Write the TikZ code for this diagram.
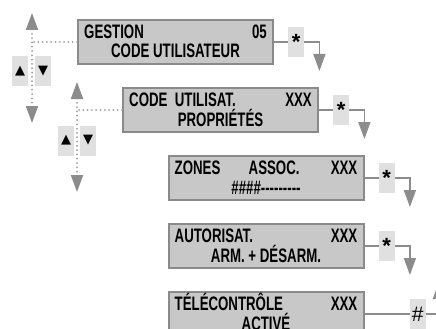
\documentclass[tikz,border=0pt]{standalone}
\usepackage{fontspec}
\newfontfamily\lcdfont[FakeStretch=0.68]{Liberation Sans Bold}
\newfontfamily\keyfont{Liberation Sans}
\newfontfamily\starfont{Liberation Sans Bold}
\newfontfamily\symbolfont{DejaVu Sans}
\usetikzlibrary{arrows.meta,positioning}
\definecolor{lcdfill}{HTML}{C8C8C8}
\definecolor{lcdline}{HTML}{8A8A8A}
\definecolor{keyfill}{HTML}{E0E0E0}
\definecolor{linkgray}{HTML}{8C8C8C}
\definecolor{dotgray}{HTML}{9C9C9C}

\begin{document}
\begin{tikzpicture}[x=1pt,y=-1pt,
    lcd/.style={draw=lcdline,line width=2pt,fill=lcdfill,minimum width=195pt,minimum height=44pt,inner sep=0pt},
    txt/.style={font=\lcdfont\fontsize{19.5}{20}\selectfont,inner sep=0pt},
    keybox/.style={fill=keyfill,minimum width=16pt,minimum height=30pt,inner sep=0pt,font=\starfont\fontsize{22}{22}\selectfont},
    btn/.style={fill=keyfill,minimum width=16pt,minimum height=30pt,inner sep=0pt,font=\symbolfont\fontsize{13}{13}\selectfont},
    link/.style={draw=linkgray,line width=1.6pt},
    flow/.style={link,-{Triangle[length=17pt,width=12pt]}},
    dots/.style={draw=dotgray,line width=2pt,dash pattern=on 0pt off 4.3pt,line cap=round},
    navtip/.style={{Triangle[length=17pt,width=12pt,fill=linkgray,color=linkgray]}-{Triangle[length=17pt,width=12pt,fill=linkgray,color=linkgray]}}]
  \useasboundingbox (0,0) rectangle (436,329);

  % menu screens
  \foreach \n/\x/\y in {1/175.5/42,2/220.5/110,3/266/178,4/266/246,5/266/314} {
    \node[lcd] (b\n) at (\x,\y) {};
  }

  \node[txt,anchor=base west] (t1a) at ([shift={(7,19)}]b1.north west) {GESTION};
  \node[txt,anchor=base east] (t1b) at ([shift={(-7,19)}]b1.north east) {05};
  \node[txt,anchor=base] (t1c) at ([shift={(0,39)}]b1.north) {CODE UTILISATEUR};

  \node[txt,anchor=base west] (t2a) at ([shift={(7,19)}]b2.north west) {CODE\ \ UTILISAT.};
  \node[txt,anchor=base east] (t2b) at ([shift={(-7,19)}]b2.north east) {XXX};
  \node[txt,anchor=base] (t2c) at ([shift={(0,39)}]b2.north) {PROPRIÉTÉS};

  \node[txt,anchor=base west] (t3a) at ([shift={(7,19)}]b3.north west) {ZONES};
  \node[txt,anchor=base west] (t3d) at ([shift={(81,19)}]b3.north west) {ASSOC.};
  \node[txt,anchor=base east] (t3b) at ([shift={(-7,19)}]b3.north east) {XXX};
  \node[txt,anchor=base] (t3c) at ([shift={(0,39)}]b3.north) {\#\#\#\#---------};

  \node[txt,anchor=base west] (t4a) at ([shift={(7,19)}]b4.north west) {AUTORISAT.};
  \node[txt,anchor=base east] (t4b) at ([shift={(-7,19)}]b4.north east) {XXX};
  \node[txt,anchor=base] (t4c) at ([shift={(0,39)}]b4.north) {ARM. + DÉSARM.};

  \node[txt,anchor=base west] (t5a) at ([shift={(7,19)}]b5.north west) {TÉLÉCONTRÔLE};
  \node[txt,anchor=base east] (t5b) at ([shift={(-7,19)}]b5.north east) {XXX};
  \node[txt,anchor=base] (t5c) at ([shift={(0,39)}]b5.north) {ACTIVÉ};

  % keys to the next screen
  \foreach \n in {1,...,4} {
    \node[keybox,right=14pt of b\n] (k\n) {*};
    \coordinate (a\n) at ([shift={(15,29)}]k\n.east);
    \draw[link] (b\n) -- (k\n);
    \draw[flow] (k\n) -| (a\n);
  }
  \node[keybox,right=45pt of b5,font=\keyfont\fontsize{21}{21}\selectfont] (k5) {\#};
  \coordinate (a5) at ([shift={(13,-32)}]k5.east);
  \draw[link] (b5) -- (k5);
  \draw[flow] (k5) -| (a5);

  % scrolling with the arrow keys
  \coordinate (n1top) at (32,13);
  \coordinate (n1bot) at (32,123);
  \draw[dots,navtip] (n1top) -- (n1bot);
  \draw[dots] (b1.west) -- (b1.west -| n1top);
  \node[btn] (up1) at (20,71) {▲};
  \node[btn] (dn1) at (43,71) {▼};

  \coordinate (n2top) at (77,82);
  \coordinate (n2bot) at (77,192);
  \draw[dots,navtip] (n2top) -- (n2bot);
  \draw[dots] (b2.west) -- (b2.west -| n2top);
  \node[btn] (up2) at (66,140.5) {▲};
  \node[btn] (dn2) at (88,140.5) {▼};
\end{tikzpicture}
\end{document}
